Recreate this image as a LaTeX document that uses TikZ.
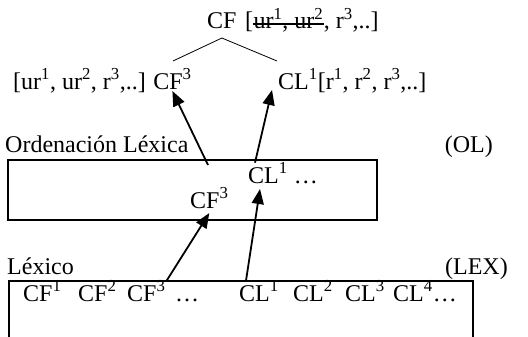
\documentclass[tikz,border=0pt]{standalone}
\usepackage{fontspec}
\setmainfont{Liberation Serif}
\usetikzlibrary{arrows.meta}
\tikzset{
	lab/.style={anchor=base west,inner sep=0pt,font=\fontsize{24}{28}\selectfont},
	up/.style={-{Triangle[length=15pt,width=12pt]},line width=1.8pt},
	box/.style={draw,line width=1.5pt,inner sep=0pt},
}
\newcommand{\su}[1]{\textsuperscript{#1}}

\begin{document}
\begin{tikzpicture}[x=1pt,y=-1pt]
	\useasboundingbox (0,0) rectangle (528,337);
	% forma y significados
	\node[lab] (cftop) at (207,29) {CF};
	\node[lab] (brtop) at (245,29) {[};
	\node[lab] (urtop) at (brtop.base east) {ur\su{1}, ur\su{2}};
	\node[lab] (rtop) at (urtop.base east) {, r\su{3},..]};
	\draw[line width=1.2pt] ([yshift=5pt]urtop.base west) -- ([yshift=5pt]urtop.base east);
	\coordinate (forkl) at (173,61);
	\coordinate (forkr) at (277,61);
	\draw[line width=.8pt] (forkl) -- ([yshift=-9pt]cftop.base) -- (forkr);
	\node[lab] (urleft) at (13,89) {[ur\su{1}, ur\su{2}, r\su{3},..]};
	\node[lab] (cfup) at ([xshift=7pt]urleft.base east) {CF\su{3}};
	\node[lab] (clup) at (278,89) {CL\su{1}[r\su{1}, r\su{2}, r\su{3},..]};
	% ordenacion lexica
	\node[lab] (ollab) at (5,153) {Ordenación Léxica};
	\node[lab,anchor=base east] (oltag) at (493,153) {(OL)};
	\node[box,minimum width=369pt,minimum height=60pt] (olbox) at (192.5,190) {};
	\node[lab] (clmid) at (248,183) {CL\su{1} …};
	\node[lab] (cfmid) at (190,208) {CF\su{3}};
	% lexico
	\node[lab] (lexlab) at (7,274) {Léxico};
	\node[lab,anchor=base east] (lextag) at (508,274) {(LEX)};
	\begin{scope}
		\clip (0,0) rectangle (528,337);
		\node[box,minimum width=464pt,minimum height=100pt,anchor=north west] (lexbox) at (8,280) {};
	\end{scope}
	\node[lab] (cflex1) at (23,301) {CF\su{1}};
	\node[lab] (cflex2) at (78,301) {CF\su{2}};
	\node[lab] (cflex3) at (127,301) {CF\su{3}};
	\node[lab] (cfdots) at (175,301) {…};
	\node[lab] (cllex1) at (239,301) {CL\su{1}};
	\node[lab] (cllex2) at (293,301) {CL\su{2}};
	\node[lab] (cllex3) at (345,301) {CL\su{3}};
	\node[lab] (cllex4) at (393,301) {CL\su{4}…};
	% flechas
	\coordinate (olhint) at (208,165);
	\draw[up] (olhint) -- ([yshift=-2pt]cfup.base);
	\draw[up] ([xshift=7pt]clmid.north west) -- ([xshift=-6pt,yshift=-1pt]clup.base west);
	\draw[up] ([xshift=1pt]cflex3.north east) -- ([yshift=-5pt]cfmid.base);
	\draw[up] ([xshift=7pt]cllex1.north west) -- ([xshift=12pt,yshift=-6pt]clmid.base west);
\end{tikzpicture}
\end{document}
